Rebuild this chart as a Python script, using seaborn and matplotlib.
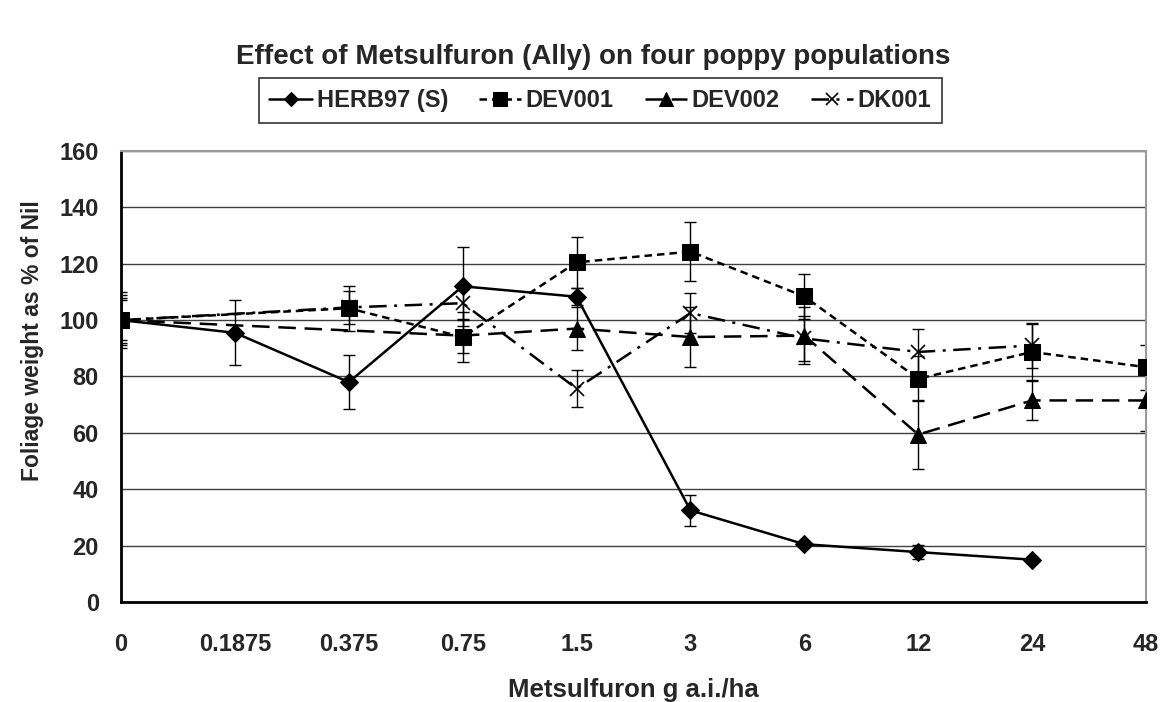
import numpy as np
import pandas as pd
import matplotlib
matplotlib.use("Agg")
import matplotlib.pyplot as plt
import seaborn as sns

doses = ["0", "0.1875", "0.375", "0.75", "1.5", "3", "6", "12", "24", "48"]

herb97 = [100, 95.5, 78, 112, 108.3, 32.5, 20.5, 17.7, 15, None]
herb97_err = [8, 11.5, 9.5, 14, 3, 5.5, 1, 2.5, 1, None]
dev001 = [100, None, 104.2, 94, 120.5, 124.3, 108.4, 79.2, 88.7, 83.3]
dev001_err = [9, None, 8, 9, 9, 10.5, 8, 8, 10, 8]
dev002 = [100, None, None, 94.5, 97, 94, 94.5, 59.4, 71.5, 71.5]
dev002_err = [7, None, None, 6, 7.5, 10.5, 10, 12.4, 7, 11]
dk001 = [100, None, 104.5, 106, 75.7, 102.5, 93.5, 88.7, 91, None]
dk001_err = [10, None, 6, 6, 6.5, 7, 8, 8.3, 8, None]

series_names = ["HERB97 (S)", "DEV001", "DEV002", "DK001"]
series_vals = [herb97, dev001, dev002, dk001]
series_errs = [herb97_err, dev001_err, dev002_err, dk001_err]

rows = []
for name, vals, errs in zip(series_names, series_vals, series_errs):
    for i, (v, e) in enumerate(zip(vals, errs)):
        if v is not None:
            rows.append({"series": name, "pos": i, "value": v, "err": e})
df = pd.DataFrame(rows)

styles = {
    "HERB97 (S)": dict(marker="D", markersize=9, linestyle="-"),
    "DEV001": dict(marker="s", markersize=12, linestyle=(0, (3, 2))),
    "DEV002": dict(marker="^", markersize=12, linestyle=(0, (7, 3.5))),
    "DK001": dict(marker="x", markersize=10, linestyle=(0, (7, 3, 1.2, 3)),
                  markeredgewidth=1.2),
}

sns.set_style("white")
plt.rcParams["font.family"] = ["Liberation Sans", "DejaVu Sans"]
plt.rcParams["font.weight"] = "bold"

fig = plt.figure(figsize=(11.68, 7.02), dpi=100)
ax = fig.add_axes([0.1036, 0.1425, 0.8776, 0.6424])

handles = []
for name in series_names:
    sub = df[df["series"] == name]
    ax.errorbar(sub["pos"], sub["value"], yerr=sub["err"], fmt="none",
                ecolor="black", elinewidth=1, capsize=4, capthick=1, zorder=2)
    sns.lineplot(data=sub, x="pos", y="value", ax=ax, color="black",
                 linewidth=1.8, markeredgecolor="black", label=name,
                 zorder=3, **styles[name])
    handles.append(ax.lines[-1])

ax.set_xlim(0, len(doses) - 1)
ax.set_ylim(0, 160)
ax.set_xticks(range(len(doses)))
ax.set_xticklabels(doses)
ax.set_yticks(np.arange(0, 161, 20))
ax.yaxis.grid(True, color="#404040", linewidth=1)
ax.set_axisbelow(True)
for s in ["left", "bottom"]:
    ax.spines[s].set_color("black")
    ax.spines[s].set_linewidth(2)
for s in ["top", "right"]:
    ax.spines[s].set_color("#999999")
    ax.spines[s].set_linewidth(1.5)
ax.tick_params(axis="both", direction="out", length=6, width=1.5,
               labelsize=17, color="black", pad=10)
ax.tick_params(axis="x", pad=16)
for lab in ax.get_xticklabels() + ax.get_yticklabels():
    lab.set_fontweight("bold")

ax.set_xlabel("Metsulfuron g a.i./ha", fontsize=18.5, fontweight="bold", labelpad=16)
ax.set_ylabel("Foliage weight as % of Nil", fontsize=16.5, fontweight="bold")
ax.yaxis.set_label_coords(-0.075, 0.58)
fig.suptitle("Effect of Metsulfuron (Ally) on four poppy populations",
             fontsize=20, fontweight="bold", x=0.508, y=0.938)

ax.get_legend().remove()
leg = fig.legend(handles=handles, labels=series_names, loc="center",
                 bbox_to_anchor=(0.514, 0.857), ncol=4, frameon=True,
                 fancybox=False, edgecolor="black", fontsize=17,
                 handlelength=1.8, columnspacing=1.3, handletextpad=0.2,
                 borderpad=0.45, borderaxespad=0, markerscale=0.8)
leg.get_frame().set_linewidth(1.2)
for t in leg.get_texts():
    t.set_fontweight("bold")

fig.savefig("out.png", dpi=100, facecolor="white")
